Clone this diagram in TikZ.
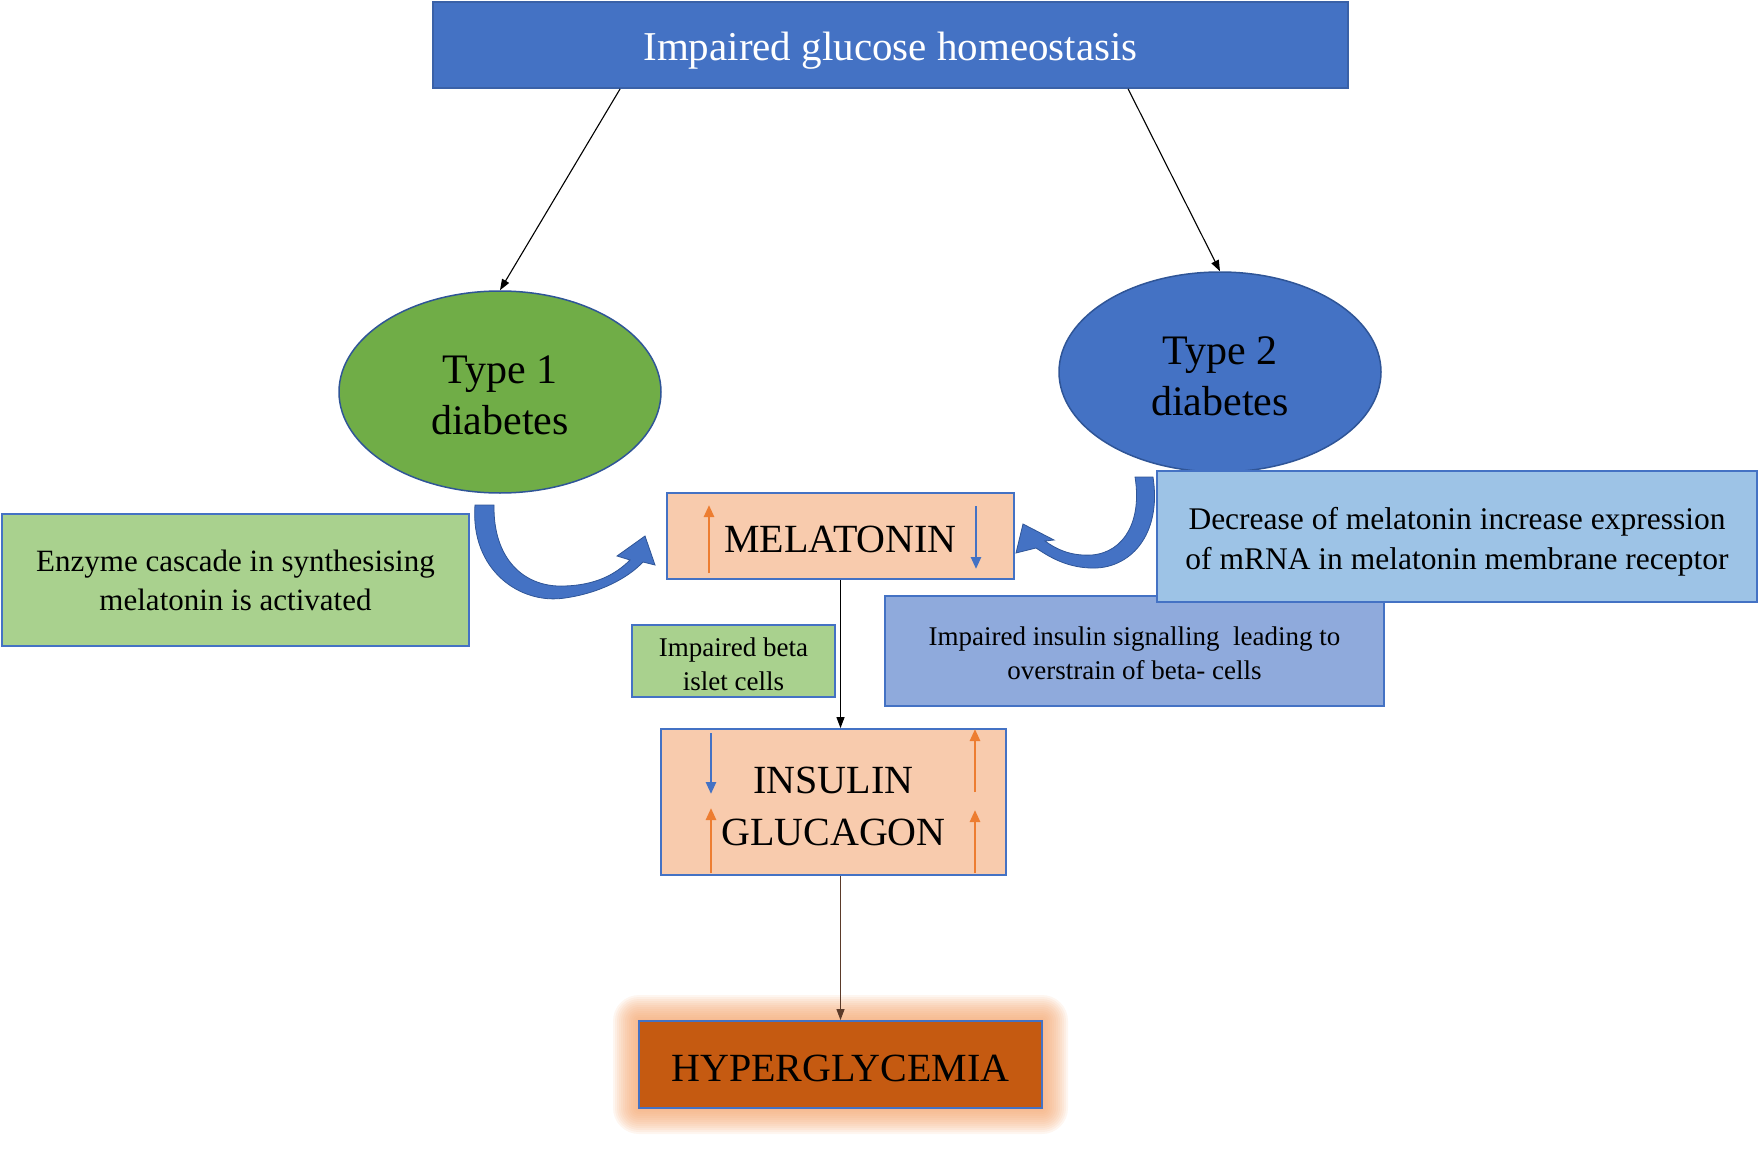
\documentclass[tikz,border=0pt]{standalone}
\usepackage{fontspec}
\setmainfont{Liberation Serif}
\usetikzlibrary{arrows.meta,shapes.geometric,calc}
\definecolor{tblue}{HTML}{4472C4}
\definecolor{tborder}{HTML}{2F5597}
\definecolor{tgreen}{HTML}{70AD47}
\definecolor{lgreen}{HTML}{A9D18E}
\definecolor{peach}{HTML}{F8CBAD}
\definecolor{lblue}{HTML}{9DC3E6}
\definecolor{mblue}{HTML}{8FAADC}
\definecolor{burnt}{HTML}{C55A11}
\definecolor{glowc}{HTML}{F4A56E}
\definecolor{orng}{HTML}{ED7D31}
\definecolor{brownline}{HTML}{5B3A29}
\newcommand\lowtxt[2]{\raisebox{-#1}[\height][\depth]{\begin{tabular}{@{}c@{}}#2\end{tabular}}}
\begin{document}
\begin{tikzpicture}[x=1pt,y=-1pt,
 box/.style={draw=tblue,line width=1.8pt,inner sep=0pt,align=center,text=black},
 oval/.style={ellipse,draw=tborder,line width=1.5pt,inner sep=0pt,align=center,text=black},
 conn/.style={line width=1.1pt,-{Triangle[length=11pt,width=8pt]}},
 uparr/.style={draw=orng,line width=2.6pt,-{Triangle[length=12pt,width=10pt]}},
 dnarr/.style={draw=tblue,line width=2.6pt,-{Triangle[length=12pt,width=10pt]}},
 curvarr/.style={fill=tblue,draw=tborder,line width=0.8pt},
]
\useasboundingbox (0,0) rectangle (1762,1153);

% title
\node[box,fill=tblue,draw=tblue!85!black,minimum width=915pt,minimum height=86pt,text=white,
  font=\fontsize{41}{48}\selectfont] (title) at (890.5,45) {\lowtxt{6pt}{Impaired glucose homeostasis}};

% ellipses
\node[oval,fill=tgreen,minimum width=322pt,minimum height=202pt,
  font=\fontsize{42}{51}\selectfont] (t1) at (500,392) {\lowtxt{6.5pt}{Type 1\\diabetes}};
\node[oval,fill=tblue,minimum width=322pt,minimum height=200pt,
  font=\fontsize{42}{51}\selectfont] (t2) at (1220,372) {\lowtxt{7.5pt}{Type 2\\diabetes}};

% enzyme box
\node[box,fill=lgreen,minimum width=467pt,minimum height=132pt,
  font=\fontsize{31}{39}\selectfont] (enz) at (235.5,580) {\lowtxt{3.4pt}{Enzyme cascade in synthesising\\melatonin is activated}};

% melatonin
\node[box,fill=peach,minimum width=347pt,minimum height=86pt,
  font=\fontsize{40}{48}\selectfont] (mel) at (840.5,536) {\lowtxt{7pt}{MELATONIN}};

% impaired insulin signalling (behind)
\node[box,fill=mblue,minimum width=499pt,minimum height=110pt,
  font=\fontsize{27}{34}\selectfont] (sig) at (1134.5,651) {\lowtxt{4.4pt}{Impaired insulin signalling\ \ leading to\\overstrain of beta- cells}};

% decrease box
\node[box,fill=lblue,minimum width=600pt,minimum height=131pt,
  font=\fontsize{31.5}{40}\selectfont] (dec) at (1457,536.5) {\lowtxt{5pt}{Decrease of melatonin increase expression\\of mRNA in melatonin membrane receptor}};

% impaired beta
\node[box,fill=lgreen,minimum width=203pt,minimum height=72pt,
  font=\fontsize{27}{34}\selectfont] (beta) at (733.5,661) {\lowtxt{5.4pt}{Impaired beta\\islet cells}};

% insulin glucagon
\node[box,fill=peach,minimum width=345pt,minimum height=146pt,
  font=\fontsize{40}{52}\selectfont] (ins) at (833.5,802) {\lowtxt{7pt}{INSULIN\\GLUCAGON}};

% glow + hyperglycemia
\foreach \g in {26,24,...,2}
  \fill[glowc,opacity=0.1,rounded corners=\g pt] (639-\g,1021-\g) rectangle (1042+\g,1108+\g);
\node[box,fill=burnt,minimum width=403pt,minimum height=87pt,
  font=\fontsize{40}{48}\selectfont] (hyp) at (840.5,1064.5) {\lowtxt{7pt}{HYPERGLYCEMIA}};

% connectors
\draw[conn] ($(title.south west)+(188,0)$) -- (t1.north);
\draw[conn] ($(title.south west)+(696,0)$) -- (t2.north);
\draw[conn] (mel.south) -- (mel.south |- ins.north);
\draw[conn,draw=brownline] (hyp.north |- ins.south) -- (hyp.north);

% up/down indicator arrows
\draw[uparr] (709,573) -- (709,505);
\draw[dnarr] (976,506) -- (976,569);
\draw[dnarr] (711,733) -- (711,794);
\draw[uparr] (711,873) -- (711,808);
\draw[uparr] (975,792) -- (975,729);
\draw[uparr] (975,873) -- (975,810);

% curved arrows
\path[curvarr] (475,505) .. controls (470,570) and (520,605) .. (565,598)
  .. controls (600,593) and (628,578) .. (643,562)
  -- (655,565) -- (645,536) -- (617,556) -- (630,560)
  .. controls (615,575) and (595,585) .. (565,586)
  .. controls (525,588) and (493,560) .. (494,505) -- cycle;
\path[curvarr] (1153,477) .. controls (1162,535) and (1130,570) .. (1090,568)
  .. controls (1065,567) and (1048,556) .. (1036,548)
  -- (1016,553) -- (1023,524) -- (1054,540) -- (1045,541)
  .. controls (1060,552) and (1075,556) .. (1092,555)
  .. controls (1125,552) and (1142,520) .. (1135,477) -- cycle;
\end{tikzpicture}
\end{document}
